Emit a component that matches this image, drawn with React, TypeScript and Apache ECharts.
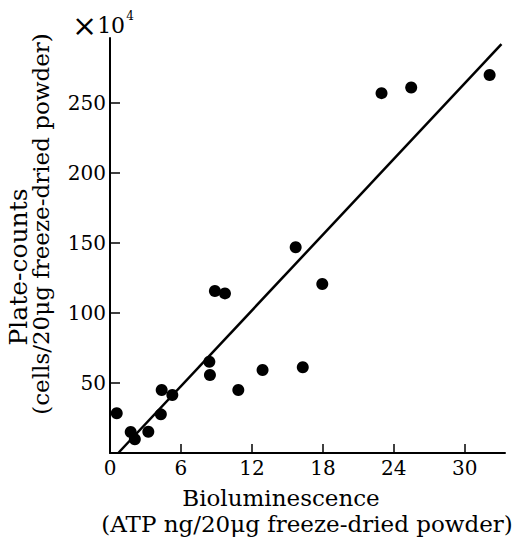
import React, { useEffect, useRef } from "react";
import * as echarts from "echarts";

const atpValues = [0.57, 1.75, 2.1, 3.24, 4.3, 4.37, 5.27, 8.4, 8.45, 8.87, 9.72, 10.85, 12.9, 15.7, 16.3, 17.95, 22.96, 25.47, 32.1];
const plateCounts = [28.4, 15, 9.8, 15.2, 27.6, 45, 41.4, 65.2, 55.7, 115.7, 114, 45, 59.3, 147, 61.2, 120.7, 257, 261, 270];
const fitX = [0.7, 33.1];
const fitY = [0, 292];
const xTickInterval = 6;
const yTickInterval = 50;

const FONT = "DejaVu Serif";

export default function App() {
  const ref = useRef<HTMLDivElement>(null);
  useEffect(() => {
    if (!ref.current) return;
    const chart = echarts.init(ref.current, null, { renderer: "svg" });
    const points = atpValues.map((x, i) => [x, plateCounts[i]]);
    const fit = fitX.map((x, i) => [x, fitY[i]]);
    chart.setOption({
      animation: false,
      backgroundColor: "#fff",
      grid: { left: 110, right: 17, top: 38, bottom: 87, containLabel: false },
      xAxis: {
        type: "value",
        min: 0,
        max: 33.4,
        interval: xTickInterval,
        splitLine: { show: false },
        axisLine: { show: true, lineStyle: { color: "#000", width: 2 } },
        axisTick: { show: true, inside: true, length: 9, lineStyle: { color: "#000", width: 1.5 } },
        axisLabel: { color: "#000", fontFamily: FONT, fontSize: 20, margin: 5, showMaxLabel: false },
      },
      yAxis: {
        type: "value",
        min: 0,
        max: 296.4,
        interval: yTickInterval,
        splitLine: { show: false },
        axisLine: { show: true, lineStyle: { color: "#000", width: 2 } },
        axisTick: { show: true, inside: true, length: 10, lineStyle: { color: "#000", width: 1.5 } },
        axisLabel: { color: "#000", fontFamily: FONT, fontSize: 20, margin: 4, showMinLabel: false, showMaxLabel: false },
      },
      graphic: [
        {
          type: "text",
          left: 72,
          top: 10,
          style: {
            text: "{x|×}10{sup|4}",
            fontFamily: FONT,
            fontSize: 22,
            fill: "#000",
            rich: {
              x: { fontSize: 30, fontFamily: FONT, fill: "#000", fontWeight: "lighter" },
              sup: { fontSize: 12, fontFamily: FONT, fill: "#000", verticalAlign: "top", padding: [0, 0, 14, 1] },
            },
          },
        },
        {
          type: "text",
          x: 18,
          y: 267,
          rotation: Math.PI / 2,
          style: { text: "Plate-counts", fontFamily: FONT, fontSize: 25, fill: "#000", align: "center", verticalAlign: "middle" },
        },
        {
          type: "text",
          x: 41,
          y: 224,
          rotation: Math.PI / 2,
          style: { text: "(cells/20μg freeze-dried powder)", fontFamily: FONT, fontSize: 23, fill: "#000", align: "center", verticalAlign: "middle" },
        },
        {
          type: "text",
          x: 281,
          y: 498,
          style: { text: "Bioluminescence", fontFamily: FONT, fontSize: 23, fill: "#000", align: "center", verticalAlign: "middle" },
        },
        {
          type: "text",
          x: 307,
          y: 524,
          style: { text: "(ATP ng/20μg freeze-dried powder)", fontFamily: FONT, fontSize: 23, fill: "#000", align: "center", verticalAlign: "middle" },
        },
      ],
      series: [
        {
          type: "line",
          data: fit,
          showSymbol: false,
          symbol: "none",
          lineStyle: { color: "#000", width: 2.5 },
          z: 2,
        },
        {
          type: "scatter",
          data: points,
          symbol: "circle",
          symbolSize: 12,
          itemStyle: { color: "#000", opacity: 1 },
          z: 3,
        },
      ],
    });
    return () => chart.dispose();
  }, []);
  return <div ref={ref} style={{ position: "fixed", left: 0, top: 0, width: 522, height: 540 }} />;
}
